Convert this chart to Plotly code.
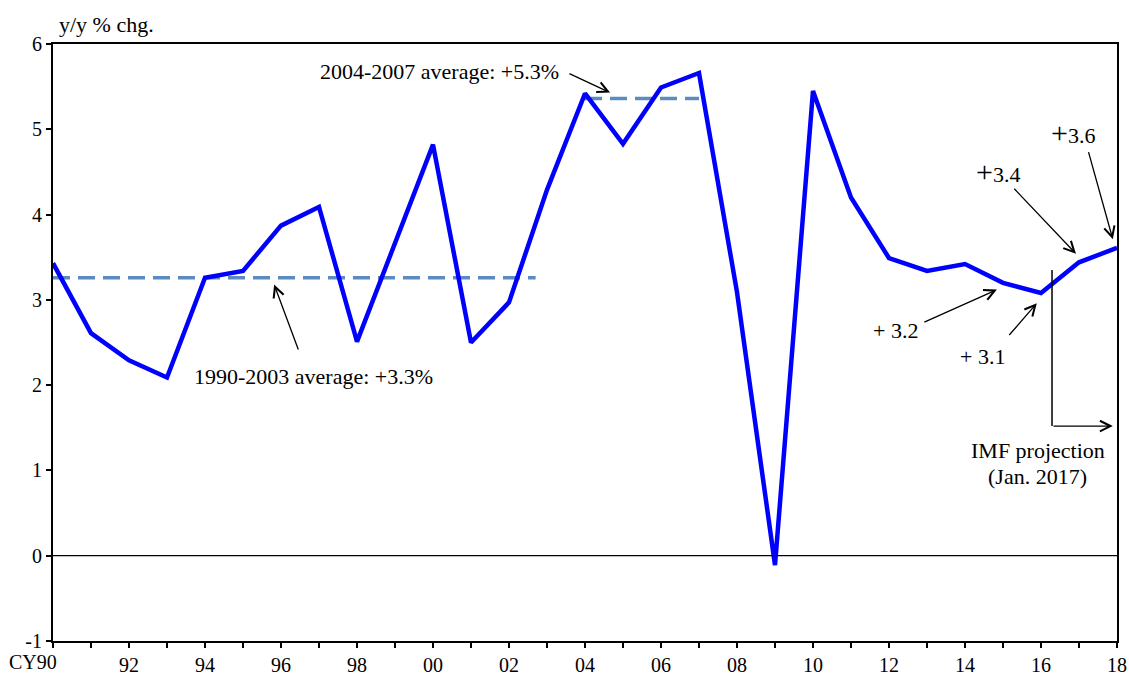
import plotly.graph_objects as go

years = list(range(1990, 2019))
growth = [3.43, 2.61, 2.29, 2.09, 3.26, 3.34, 3.87, 4.09, 2.51, 3.66,
          4.82, 2.50, 2.97, 4.29, 5.42, 4.83, 5.49, 5.66, 3.09, -0.11,
          5.45, 4.20, 3.49, 3.34, 3.42, 3.20, 3.08, 3.44, 3.61]

avg1_x = [1990, 2002.7]
avg1_y = [3.26, 3.26]
avg2_x = [2004, 2007]
avg2_y = [5.36, 5.36]

tick_vals = years
tick_text = [("" if y == 1990 else f"{y % 100:02d}") if y % 2 == 0 else "" for y in years]
ytick_vals = [-1, 0, 1, 2, 3, 4, 5, 6]
ytick_text = ["-1", "0", "1", "2", "3", "4", "5", "6"]

FONT = "Liberation Serif"

fig = go.Figure()
fig.add_trace(go.Scatter(x=avg1_x, y=avg1_y, mode="lines",
                         line=dict(color="#5B8BBF", width=3.5, dash="17px,8px")))
fig.add_trace(go.Scatter(x=avg2_x, y=avg2_y, mode="lines",
                         line=dict(color="#5B8BBF", width=3.5, dash="17px,8px")))
fig.add_trace(go.Scatter(x=years, y=growth, mode="lines",
                         line=dict(color="#0000FF", width=4.5)))

# zero line
fig.add_shape(type="line", xref="paper", x0=0, x1=1, yref="y", y0=0, y1=0,
              line=dict(color="black", width=1.2))

# projection marker
fig.add_shape(type="line", x0=2016.29, x1=2016.29, y0=3.35, y1=1.52,
              line=dict(color="black", width=1.5))

def arrow(x, y, ax, ay):
    fig.add_annotation(x=x, y=y, ax=ax, ay=ay, axref="x", ayref="y",
                       showarrow=True, arrowhead=5, arrowsize=1.6,
                       arrowwidth=1.3, arrowcolor="black", text="")

def label(x, y, txt, size=22):
    fig.add_annotation(x=x, y=y, text=txt, showarrow=False,
                       font=dict(family=FONT, size=size, color="black"))

arrow(2017.89, 1.52, 2016.29, 1.52)
arrow(2017.89, 3.71, 2017.24, 4.75)
arrow(2016.92, 3.54, 2015.26, 4.32)
arrow(2014.84, 3.12, 2012.89, 2.73)
arrow(2015.89, 2.96, 2015.13, 2.57)
arrow(1995.82, 3.18, 1996.47, 2.40)
arrow(2004.66, 5.43, 2003.55, 5.66)

label(2016.84, 4.96, "<span style='font-size:30px'>+</span>3.6")
label(2014.87, 4.51, "<span style='font-size:30px'>+</span>3.4")
label(2012.18, 2.64, "+ 3.2")
label(2014.47, 2.34, "+ 3.1")
label(2015.92, 1.23, "IMF projection")
label(2015.92, 0.93, "(Jan. 2017)")
label(1996.86, 2.10, "1990-2003 average: +3.3%")
label(2000.16, 5.68, "2004-2007 average: +5.3%")

fig.add_annotation(xref="paper", yref="paper", x=0.004, y=1.0, yanchor="bottom",
                   xanchor="left", yshift=5, text="y/y % chg.", showarrow=False,
                   font=dict(family=FONT, size=22, color="black"))
fig.add_annotation(xref="paper", yref="paper", x=0, y=0, yanchor="top",
                   xanchor="right", xshift=6, yshift=-8, text="CY90", showarrow=False,
                   font=dict(family=FONT, size=20, color="black"))

fig.update_layout(
    width=1129, height=679,
    margin=dict(l=53, r=12, t=44, b=38),
    plot_bgcolor="white", paper_bgcolor="white",
    showlegend=False,
    font=dict(family=FONT, size=20, color="black"),
    xaxis=dict(range=[1990, 2018], tickvals=tick_vals, ticktext=tick_text,
               showgrid=False, zeroline=False, showline=True, linecolor="black",
               linewidth=2, mirror=True, ticks="outside", ticklen=5,
               tickcolor="black", tickwidth=1.5, automargin=False),
    yaxis=dict(range=[-1, 6], tickvals=ytick_vals, ticktext=ytick_text,
               showgrid=False, zeroline=False,
               showline=True, linecolor="black", linewidth=2, mirror=True,
               ticks="outside", ticklen=5, tickcolor="black", tickwidth=1.5,
               automargin=False),
)

fig.write_html("out.html", config={"displayModeBar": False},
               post_script="document.body.style.margin='0';")
